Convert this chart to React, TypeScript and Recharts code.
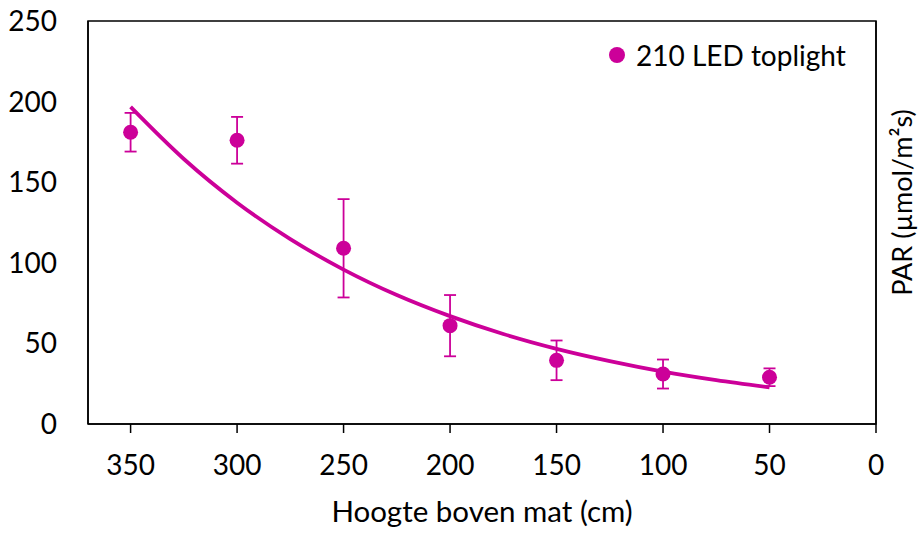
import React from 'react';
import {
  ComposedChart, Line, Scatter, XAxis, YAxis, ErrorBar, ReferenceArea, Legend,
} from 'recharts';

const heights = [350, 300, 250, 200, 150, 100, 50];
const parValues = [181, 176, 109, 61, 39.5, 31, 29];
const parErrors = [12, 14.5, 30.5, 19, 12.3, 9, 5.5];

const trendHeights = [350, 325, 300, 275, 250, 225, 200, 175, 150, 125, 100, 75, 50];
const trendValues = [196.7, 164.4, 137.3, 114.7, 95.8, 80.0, 66.9, 55.8, 46.6, 39.0, 32.5, 27.2, 22.7];

const xTicks = [350, 300, 250, 200, 150, 100, 50, 0];
const yTicks = [0, 50, 100, 150, 200, 250];

const seriesName = '210 LED toplight';
const xTitle = 'Hoogte boven mat (cm)';
const yTitle = 'PAR (µmol/m²s)';

const COLOR = '#CC0099';
const FONT = 'Lato, "Open Sans", sans-serif';

const points = heights.map((h, i) => ({ x: h, y: parValues[i], err: parErrors[i] }));
const trend = trendHeights.map((h, i) => ({ x: h, y: trendValues[i] }));

const LegendContent = () => (
  <div style={{ display: 'flex', alignItems: 'center', fontFamily: FONT, fontSize: 28, color: '#000', whiteSpace: 'nowrap' }}>
    <svg width={20} height={20} style={{ marginRight: 9 }}>
      <circle cx={10} cy={10} r={8} fill={COLOR} />
    </svg>
    <span>{seriesName}</span>
  </div>
);

export default function App() {
  return (
    <div style={{ position: 'absolute', left: 0, top: 0, background: '#fff' }}>
      <ComposedChart
        width={919}
        height={534}
        margin={{ top: 21, right: 0, bottom: 0, left: 0 }}
        style={{ fontFamily: FONT }}
      >
        <XAxis
          type="number"
          dataKey="x"
          domain={[0, 370]}
          reversed
          ticks={xTicks}
          allowDataOverflow
          height={110}
          axisLine={{ stroke: '#000', strokeWidth: 1.5 }}
          tickLine={{ stroke: '#000', strokeWidth: 1.5 }}
          tickSize={9}
          tickMargin={22}
          tick={{ fill: '#000', fontSize: 28, fontFamily: FONT }}
          label={{ value: xTitle, position: 'insideBottom', offset: 12, fill: '#000', fontSize: 29.5, fontFamily: FONT }}
        />
        <YAxis
          yAxisId="left"
          type="number"
          domain={[0, 250]}
          ticks={yTicks}
          width={88}
          allowDataOverflow
          axisLine={{ stroke: '#000', strokeWidth: 1.5 }}
          tickLine={false}
          tickSize={6}
          tickMargin={25}
          tick={{ fill: '#000', fontSize: 28, fontFamily: FONT }}
        />
        <YAxis
          yAxisId="right"
          orientation="right"
          type="number"
          domain={[0, 250]}
          ticks={yTicks}
          width={43}
          axisLine={{ stroke: '#000', strokeWidth: 1.5 }}
          tickLine={false}
          tick={false}
          label={{ value: yTitle, angle: -90, position: 'center', dx: 5, dy: -20, fill: '#000', fontSize: 27, fontFamily: FONT }}
        />
        <ReferenceArea
          yAxisId="left"
          x1={0}
          x2={370}
          y1={0}
          y2={250}
          fill="none"
          stroke="#000"
          strokeWidth={1.5}
          ifOverflow="visible"
        />
        <Line
          yAxisId="left"
          data={trend}
          dataKey="y"
          type="monotone"
          stroke={COLOR}
          strokeWidth={3.8}
          dot={false}
          activeDot={false}
          legendType="none"
          isAnimationActive={false}
        />
        <Scatter
          yAxisId="left"
          data={points}
          dataKey="y"
          name={seriesName}
          fill={COLOR}
          shape={(props: any) => <circle cx={props.cx} cy={props.cy} r={7.5} fill={COLOR} />}
          isAnimationActive={false}
        >
          <ErrorBar dataKey="err" direction="y" width={6} stroke={COLOR} strokeWidth={1.8} isAnimationActive={false} />
        </Scatter>
        <Legend
          content={<LegendContent />}
          wrapperStyle={{ position: 'absolute', top: 38, left: 607, width: 280, height: 0, overflow: 'visible' }}
        />
      </ComposedChart>
    </div>
  );
}
